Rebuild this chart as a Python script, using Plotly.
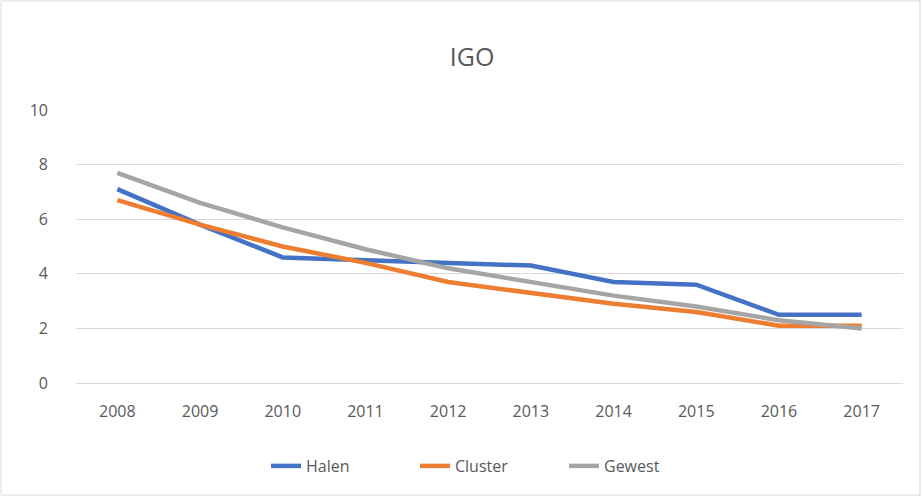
import plotly.graph_objects as go

years = ["2008", "2009", "2010", "2011", "2012", "2013", "2014", "2015", "2016", "2017"]
halen = [7.1, 5.8, 4.6, 4.5, 4.4, 4.3, 3.7, 3.6, 2.5, 2.5]
cluster = [6.7, 5.8, 5.0, 4.4, 3.7, 3.3, 2.9, 2.6, 2.1, 2.1]
gewest = [7.7, 6.6, 5.7, 4.9, 4.2, 3.7, 3.2, 2.8, 2.3, 2.0]
y_ticks = [0, 2, 4, 6, 8, 10]

series = [("Halen", halen, "#4472C4"), ("Cluster", cluster, "#ED7D31"), ("Gewest", gewest, "#A5A5A5")]

fig = go.Figure()
for name, vals, col in series:
    fig.add_trace(go.Scatter(x=years, y=vals, name=name, mode="lines",
                             line=dict(color=col, width=4.5)))

font = "Open Sans, Liberation Sans, sans-serif"
PL, PT, PW, PH = 76, 110, 827, 273
fig.update_layout(
    width=922, height=497,
    margin=dict(l=PL, r=922 - PL - PW, t=PT, b=497 - PT - PH),
    paper_bgcolor="white", plot_bgcolor="white",
    title=dict(text="IGO", x=0.512, xref="container", y=1 - 57 / 497, yanchor="middle",
               font=dict(family=font, size=25, color="#595959")),
    font=dict(family=font, size=16, color="#595959"),
    xaxis=dict(type="category", range=[-0.5, 9.5], showgrid=False, showline=False, ticks="",
               ticklabelstandoff=17, tickfont=dict(size=16, color="#595959")),
    yaxis=dict(range=[0, 10], tickvals=y_ticks, showgrid=True, gridcolor="#D9D9D9",
               gridwidth=1, zeroline=True, zerolinecolor="#D9D9D9", zerolinewidth=1,
               ticks="", ticklabelstandoff=27, tickfont=dict(size=16, color="#595959")),
    legend=dict(orientation="h", x=0.5, xanchor="center", y=(383 - 466) / PH, yanchor="middle",
                font=dict(size=16, color="#595959"), entrywidth=104, entrywidthmode="pixels"),
    showlegend=True,
)
fig.add_shape(type="rect", xref="paper", yref="paper",
              x0=-(PL - 1) / PW, x1=(920 - PL) / PW,
              y0=(PT + PH - 495) / PH, y1=(PT + PH - 1) / PH,
              line=dict(color="#D9D9D9", width=1), fillcolor="rgba(0,0,0,0)", layer="below")
fig.write_html("out.html", config={"displayModeBar": False},
               post_script="document.body.style.margin='0';document.body.style.overflow='hidden';")
